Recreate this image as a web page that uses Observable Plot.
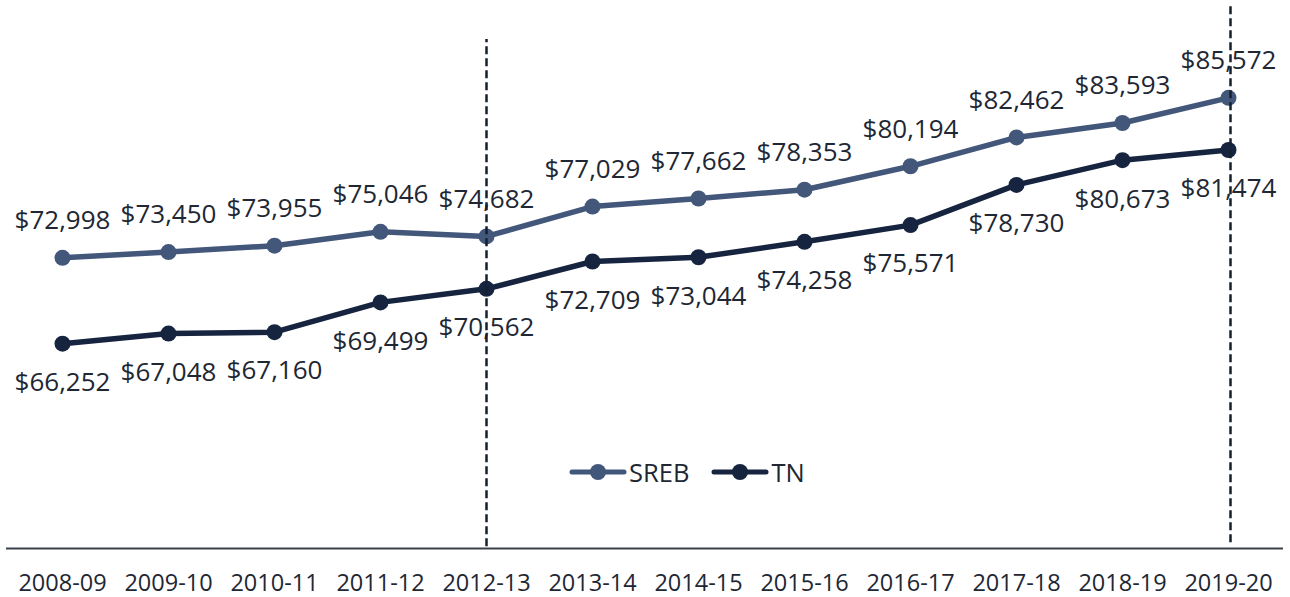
<!DOCTYPE html>
<html>
<head>
<meta charset="utf-8">
<script src="https://cdn.jsdelivr.net/npm/d3@7"></script>
<script src="https://cdn.jsdelivr.net/npm/@observablehq/plot@0.6"></script>
<style>
  html, body { margin: 0; padding: 0; background: #fff; }
  #wrap { position: relative; width: 1290px; height: 597px; font-family: "Open Sans", sans-serif; }
  #legend { position: absolute; left: 569px; top: 455px; display: flex; align-items: center; gap: 22px; font-size: 25.5px; color: #1e2733; }
  #legend .item { display: flex; align-items: center; gap: 2px; }
</style>
</head>
<body>
<div id="wrap"><div id="legend"></div></div>
<script>
const years = ["2008-09","2009-10","2010-11","2011-12","2012-13","2013-14","2014-15","2015-16","2016-17","2017-18","2018-19","2019-20"];
const sreb = [72998, 73450, 73955, 75046, 74682, 77029, 77662, 78353, 80194, 82462, 83593, 85572];
const tn   = [66252, 67048, 67160, 69499, 70562, 72709, 73044, 74258, 75571, 78730, 80673, 81474];
const seriesNames = ["SREB", "TN"];
const seriesColors = ["#42577a", "#16243f"];
const markerYears = ["2012-13", "2019-20"];

const rows = [
  ...years.map((y, i) => ({year: y, value: sreb[i], series: "SREB"})),
  ...years.map((y, i) => ({year: y, value: tn[i], series: "TN"}))
];
const fmt = d3.format("$,");
const textColor = "#1e2733";

const chart = Plot.plot({
  width: 1290,
  height: 597,
  marginTop: 41,
  marginBottom: 47,
  marginLeft: 6,
  marginRight: 7,
  style: {fontFamily: "'Open Sans', sans-serif", background: "#fff"},
  x: {type: "point", domain: years, range: [59.5, 1230], padding: 0, axis: null},
  y: {domain: [50000, 90000], axis: null},
  color: {domain: seriesNames, range: seriesColors},
  marks: [
    Plot.ruleY([50000], {dy: -2, stroke: "#3a414a", strokeWidth: 2}),
    Plot.axisX({tickSize: 0, tickPadding: 24, fontSize: 23.5, fill: textColor, label: null}),
    Plot.line(rows, {x: "year", y: "value", z: "series", stroke: "series", strokeWidth: 5.5}),
    Plot.dot(rows, {x: "year", y: "value", fill: "series", r: 8}),
    Plot.text(rows.filter(d => d.series === "SREB"), {x: "year", y: "value", text: d => fmt(d.value), dy: -37, fontSize: 26, fill: textColor}),
    Plot.text(rows.filter(d => d.series === "TN"), {x: "year", y: "value", text: d => fmt(d.value), dy: 39, fontSize: 26, fill: textColor}),
    Plot.ruleX([markerYears[0]], {y1: 50300, y2: 90150, stroke: "#16202e", strokeWidth: 2.5, strokeDasharray: "8,4"}),
    Plot.ruleX([markerYears[1]], {y1: 50600, y2: 92800, dx: 2, stroke: "#16202e", strokeWidth: 2.5, strokeDasharray: "8,4"})
  ]
});
const wrap = document.getElementById("wrap");
wrap.insertBefore(chart, wrap.firstChild);

const legend = document.getElementById("legend");
seriesNames.forEach((name, i) => {
  const item = document.createElement("div");
  item.className = "item";
  item.innerHTML = `<svg width="58" height="20"><line x1="3" y1="10" x2="55" y2="10" stroke="${seriesColors[i]}" stroke-width="5" stroke-linecap="round"/><circle cx="29" cy="10" r="8" fill="${seriesColors[i]}"/></svg><span>${name}</span>`;
  legend.appendChild(item);
});
</script>
</body>
</html>
